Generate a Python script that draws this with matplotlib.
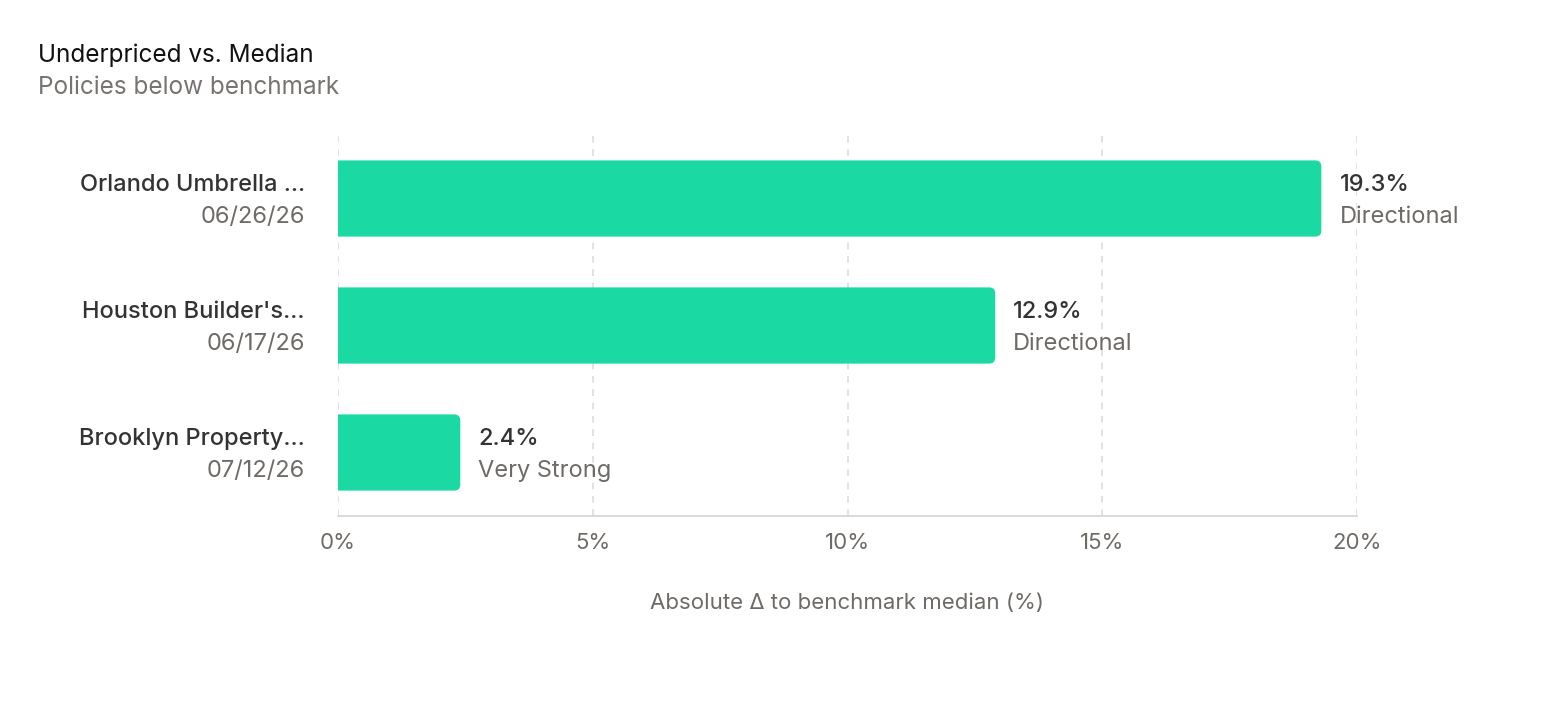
import matplotlib.pyplot as plt
from matplotlib.path import Path
from matplotlib.patches import PathPatch

plt.rcParams['font.family'] = ['Inter', 'DejaVu Sans']

# data
names = ["Orlando Umbrella ...", "Houston Builder's...", "Brooklyn Property..."]
dates = ["06/26/26", "06/17/26", "07/12/26"]
deltas = [19.3, 12.9, 2.4]
ratings = ["Directional", "Directional", "Very Strong"]
ticks = [0, 5, 10, 15, 20]

bar_color = "#1ad9a3"
dark = "#333333"
gray = "#6e6a66"

fig = plt.figure(figsize=(15.46, 7.01), dpi=100)
ax = fig.add_axes([338 / 1546, 1 - 516 / 701, 1019 / 1546, 381 / 701])

ypos = list(range(len(names)))
bars = ax.barh(ypos, deltas, height=0.6, color=bar_color, zorder=2, linewidth=0)

# replace each bar with a shape rounded only at the right end
rx, ry = 0.12, 0.048
for b in bars:
    x0, y0 = b.get_x(), b.get_y()
    x1, y1 = x0 + b.get_width(), y0 + b.get_height()
    b.set_visible(False)
    verts = [(x0, y0), (x1 - rx, y0), (x1, y0), (x1, y0 + ry),
             (x1, y1 - ry), (x1, y1), (x1 - rx, y1), (x0, y1), (x0, y0)]
    codes = [Path.MOVETO, Path.LINETO, Path.CURVE3, Path.CURVE3,
             Path.LINETO, Path.CURVE3, Path.CURVE3, Path.LINETO, Path.CLOSEPOLY]
    ax.add_patch(PathPatch(Path(verts, codes), facecolor=bar_color,
                           edgecolor="none", linewidth=0, zorder=2))

ax.set_xlim(0, 20)
ax.set_ylim(2.5, -0.5)
ax.set_xticks(ticks)
ax.set_xticklabels([f"{t}%" for t in ticks])
ax.set_yticks([])
ax.tick_params(axis='x', length=0, pad=12, labelsize=16, labelcolor=gray)

for t in ticks:
    ax.axvline(t, color="#dddddd", lw=1.2, ls=(0, (4, 4)), zorder=1)

for s in ["top", "right", "left"]:
    ax.spines[s].set_visible(False)
ax.spines["bottom"].set_color("#dad6d2")
ax.spines["bottom"].set_linewidth(1.3)

for i in ypos:
    ax.annotate(names[i], (0, i), xytext=(-24, 9.5), textcoords="offset points",
                ha="right", va="center", fontsize=17, color=dark, fontweight="medium")
    ax.annotate(dates[i], (0, i), xytext=(-24, -13.5), textcoords="offset points",
                ha="right", va="center", fontsize=17, color=gray)
    ax.annotate(f"{deltas[i]}%", (deltas[i], i), xytext=(13, 9.5), textcoords="offset points",
                ha="left", va="center", fontsize=17, color=dark, fontweight="medium")
    ax.annotate(ratings[i], (deltas[i], i), xytext=(13, -13.5), textcoords="offset points",
                ha="left", va="center", fontsize=17, color=gray)

ax.set_xlabel("Absolute Δ to benchmark median (%)", fontsize=16, color=gray, labelpad=29)

fig.text(38 / 1546, 1 - 55 / 701, "Underpriced vs. Median", fontsize=17.5,
         color="#111111", va="center", ha="left")
fig.text(38 / 1546, 1 - 88 / 701, "Policies below benchmark", fontsize=17.5,
         color="#777370", va="center", ha="left")

fig.savefig("out.png", dpi=100, facecolor="white")
